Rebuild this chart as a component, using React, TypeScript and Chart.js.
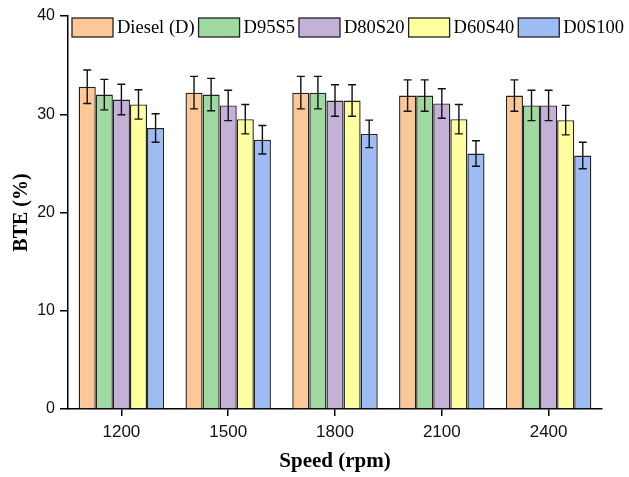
import React, { useEffect, useRef } from "react";
import { Chart, registerables } from "chart.js";

Chart.register(...registerables);

const categories = ["1200", "1500", "1800", "2100", "2400"];
const seriesNames = ["Diesel (D)", "D95S5", "D80S20", "D60S40", "D0S100"];
const seriesColors = ["#FCC897", "#9FD99F", "#C3B1D7", "#FFFF9F", "#9CBCF3"];

const dieselValues = [32.8, 32.2, 32.2, 31.9, 31.9];
const d95s5Values = [32.0, 32.0, 32.2, 31.9, 30.9];
const d80s20Values = [31.5, 30.9, 31.4, 31.1, 30.9];
const d60s40Values = [31.0, 29.5, 31.4, 29.5, 29.4];
const d0s100Values = [28.6, 27.4, 28.0, 26.0, 25.8];

const dieselErrors = [1.7, 1.65, 1.65, 1.6, 1.6];
const d95s5Errors = [1.55, 1.65, 1.65, 1.6, 1.55];
const d80s20Errors = [1.55, 1.55, 1.6, 1.5, 1.55];
const d60s40Errors = [1.5, 1.5, 1.6, 1.5, 1.5];
const d0s100Errors = [1.45, 1.45, 1.4, 1.3, 1.35];

const yTicks = [0, 10, 20, 30, 40];

const allValues = [dieselValues, d95s5Values, d80s20Values, d60s40Values, d0s100Values];
const allErrors = [dieselErrors, d95s5Errors, d80s20Errors, d60s40Errors, d0s100Errors];

const errorBarPlugin = {
  id: "errorBars",
  afterDatasetsDraw(chart: any) {
    const ctx = chart.ctx;
    const yScale = chart.scales.y;
    ctx.save();
    ctx.strokeStyle = "#111";
    ctx.lineWidth = 1.4;
    chart.data.datasets.forEach((ds: any, i: number) => {
      const meta = chart.getDatasetMeta(i);
      meta.data.forEach((el: any, j: number) => {
        const v = ds.data[j];
        const e = ds.errors[j];
        const top = yScale.getPixelForValue(v + e);
        const bot = yScale.getPixelForValue(v - e);
        const x = el.x;
        ctx.beginPath();
        ctx.moveTo(x, top);
        ctx.lineTo(x, bot);
        ctx.moveTo(x - 4, top);
        ctx.lineTo(x + 4, top);
        ctx.moveTo(x - 4, bot);
        ctx.lineTo(x + 4, bot);
        ctx.stroke();
      });
    });
    ctx.restore();
  },
};

const legendPlugin = {
  id: "innerLegend",
  afterDraw(chart: any) {
    const ctx = chart.ctx;
    ctx.save();
    ctx.font = "18.5px 'Liberation Serif', 'Times New Roman', serif";
    ctx.textBaseline = "middle";
    ctx.textAlign = "left";
    let x = chart.chartArea.left + 4;
    const y = chart.chartArea.top + 2;
    const bw = 41;
    const bh = 19;
    chart.data.datasets.forEach((ds: any) => {
      ctx.fillStyle = ds.backgroundColor;
      ctx.fillRect(x, y, bw, bh);
      ctx.strokeStyle = "#222";
      ctx.lineWidth = 1.3;
      ctx.strokeRect(x, y, bw, bh);
      ctx.fillStyle = "#000";
      const tx = x + bw + 4;
      ctx.fillText(ds.label, tx, y + bh / 2 + 1);
      x = tx + ctx.measureText(ds.label).width + 4;
    });
    ctx.restore();
  },
};

export default function App() {
  const canvasRef = useRef<HTMLCanvasElement | null>(null);

  useEffect(() => {
    if (!canvasRef.current) return;
    const chart = new Chart(canvasRef.current, {
      type: "bar",
      data: {
        labels: categories,
        datasets: seriesNames.map((name, i) => ({
          label: name,
          data: allValues[i],
          errors: allErrors[i],
          backgroundColor: seriesColors[i],
          borderColor: "#222",
          borderWidth: 1.4,
          categoryPercentage: 0.8,
          barPercentage: 1.0,
        })) as any,
      },
      options: {
        animation: false,
        responsive: true,
        maintainAspectRatio: false,
        layout: { padding: { left: 0, right: 27, top: 16, bottom: 0 } },
        plugins: {
          legend: { display: false },
          tooltip: { enabled: false },
        },
        scales: {
          x: {
            type: "category",
            offset: true,
            afterFit: (scale: any) => {
              scale.height = 68;
            },
            grid: {
              offset: false,
              drawOnChartArea: false,
              drawTicks: true,
              tickLength: 7,
              color: "#000",
              lineWidth: 1.5,
            },
            border: { display: true, color: "#000", width: 1.5 },
            ticks: {
              color: "#111",
              padding: 6,
              font: { family: "'Liberation Sans', Arial, sans-serif", size: 17 },
            },
            title: {
              display: true,
              text: "Speed (rpm)",
              color: "#000",
              padding: { top: 0, bottom: 3 },
              font: { family: "'Liberation Serif', 'Times New Roman', serif", size: 21, weight: "bold" },
            },
          },
          y: {
            min: 0,
            max: 40,
            afterFit: (scale: any) => {
              scale.width = 68;
            },
            afterBuildTicks: (scale: any) => {
              scale.ticks = yTicks.map((v) => ({ value: v }));
            },
            grid: {
              drawOnChartArea: false,
              drawTicks: true,
              tickLength: 8,
              color: "#000",
              lineWidth: 1.5,
            },
            border: { display: true, color: "#000", width: 1.5 },
            ticks: {
              color: "#111",
              padding: 5,
              font: { family: "'Liberation Sans', Arial, sans-serif", size: 16 },
            },
            title: {
              display: true,
              text: "BTE (%)",
              color: "#000",
              padding: { top: 10, bottom: 0 },
              font: { family: "'Liberation Serif', 'Times New Roman', serif", size: 20, weight: "bold" },
            },
          },
        },
      } as any,
      plugins: [errorBarPlugin, legendPlugin],
    });
    return () => chart.destroy();
  }, []);

  return (
    <div style={{ position: "fixed", left: 0, top: 0, width: 629, height: 477, background: "#fff" }}>
      <canvas ref={canvasRef} />
    </div>
  );
}
